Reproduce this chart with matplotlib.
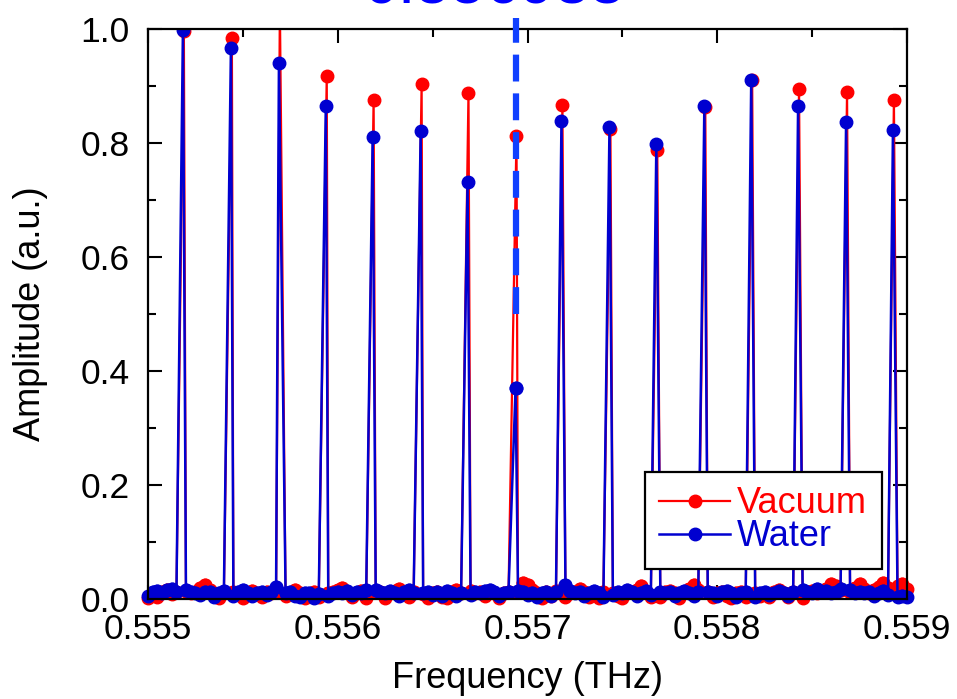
import numpy as np
import matplotlib
matplotlib.use("Agg")
import matplotlib.pyplot as plt

plt.rcParams['font.family'] = ['Liberation Sans', 'DejaVu Sans']

# comb line positions (THz) and peak amplitudes
peak_freq = [0.555184, 0.555437, 0.555690, 0.555937, 0.556184, 0.556437, 0.556684, 0.556937,
             0.557179, 0.557432, 0.557679, 0.557932, 0.558179, 0.558426, 0.558679, 0.558926]
vac_peak = [0.997, 0.984, 1.040, 0.918, 0.876, 0.903, 0.888, 0.812,
            0.867, 0.825, 0.788, 0.863, 0.911, 0.895, 0.889, 0.875]
water_peak = [0.998, 0.967, 0.940, 0.865, 0.811, 0.821, 0.732, 0.370,
              0.839, 0.828, 0.798, 0.865, 0.910, 0.865, 0.837, 0.823]

# baseline samples between the lines (0.555 .. 0.559, step 25 MHz)
base_start = 0.555
base_step = 0.000025
vac_base = [
    0.002, 0.010, 0.004, 0.012, 0.016, 0.009, 0.012, 0.003, 0.014, 0.011,
    0.013, 0.020, 0.024, 0.015, 0.008, 0.001, 0.010, 0.003, 0.012, 0.009,
    0.002, 0.011, 0.014, 0.009, 0.004, 0.013, 0.010, 0.012, 0.003, 0.006,
    0.010, 0.015, 0.011, 0.001, 0.009, 0.012, 0.004, 0.014, 0.010, 0.013,
    0.016, 0.019, 0.012, 0.003, 0.011, 0.014, 0.002, 0.009, 0.013, 0.012,
    0.002, 0.010, 0.014, 0.017, 0.011, 0.004, 0.012, 0.015, 0.009, 0.002,
    0.010, 0.013, 0.004, 0.002, 0.012, 0.016, 0.010, 0.003, 0.014, 0.011,
    0.012, 0.005, 0.014, 0.010, 0.002, 0.011, 0.013, 0.004, 0.012, 0.028,
    0.024, 0.016, 0.010, 0.002, 0.012, 0.005, 0.014, 0.011, 0.003, 0.010,
    0.013, 0.017, 0.012, 0.004, 0.010, 0.002, 0.012, 0.015, 0.011, 0.005,
    0.001, 0.010, 0.013, 0.016, 0.022, 0.012, 0.004, 0.011, 0.003, 0.012,
    0.014, 0.010, 0.002, 0.012, 0.018, 0.024, 0.015, 0.005, 0.012, 0.004,
    0.011, 0.013, 0.005, 0.001, 0.010, 0.012, 0.003, 0.014, 0.011, 0.005,
    0.010, 0.003, 0.012, 0.016, 0.011, 0.004, 0.013, 0.010, 0.002, 0.012,
    0.014, 0.010, 0.013, 0.018, 0.027, 0.022, 0.016, 0.008, 0.013, 0.020,
    0.026, 0.018, 0.010, 0.016, 0.021, 0.028, 0.019, 0.012, 0.022, 0.026,
    0.018,
]
water_base = [
    0.005, 0.012, 0.014, 0.010, 0.015, 0.018, 0.012, 0.008, 0.016, 0.012,
    0.011, 0.007, 0.013, 0.012, 0.004, 0.010, 0.014, 0.011, 0.006, 0.012,
    0.015, 0.010, 0.005, 0.011, 0.013, 0.007, 0.012, 0.021, 0.014, 0.010,
    0.012, 0.006, 0.003, 0.010, 0.011, 0.002, 0.009, 0.012, 0.005, 0.010,
    0.013, 0.011, 0.014, 0.007, 0.012, 0.010, 0.016, 0.024, 0.016, 0.012,
    0.010, 0.014, 0.011, 0.006, 0.012, 0.015, 0.010, 0.004, 0.011, 0.013,
    0.007, 0.012, 0.006, 0.014, 0.011, 0.005, 0.010, 0.013, 0.007, 0.012,
    0.010, 0.014, 0.016, 0.012, 0.006, 0.011, 0.013, 0.008, 0.014, 0.012,
    0.007, 0.011, 0.004, 0.010, 0.013, 0.006, 0.012, 0.008, 0.024, 0.014,
    0.010, 0.012, 0.006, 0.011, 0.014, 0.010, 0.004, 0.012, 0.007, 0.013,
    0.011, 0.016, 0.012, 0.006, 0.011, 0.014, 0.007, 0.003, 0.012, 0.010,
    0.013, 0.006, 0.010, 0.014, 0.011, 0.005, 0.012, 0.007, 0.013, 0.011,
    0.006, 0.012, 0.014, 0.010, 0.004, 0.011, 0.013, 0.007, 0.003, 0.010,
    0.012, 0.007, 0.011, 0.014, 0.010, 0.006, 0.012, 0.010, 0.016, 0.013,
    0.011, 0.017, 0.012, 0.014, 0.010, 0.013, 0.018, 0.012, 0.015, 0.011,
    0.013, 0.010, 0.012, 0.006, 0.011, 0.014, 0.007, 0.012, 0.004, 0.006,
    0.003,
]
vac_shift = 0.000005  # vacuum trace sits a hair to the right
marked_freq = 0.556942
marked_label = "0.556938"


def build(base, peaks, shift):
    # put each peak on the nearest baseline sample
    f = base_start + base_step * np.arange(len(base))
    a = np.array(base, dtype=float)
    for pf, pa in zip(peak_freq, peaks):
        i = int(np.argmin(np.abs(f - pf)))
        f[i] = pf + shift
        a[i] = pa
    return f, a


f_vac, a_vac = build(vac_base, vac_peak, vac_shift)
f_wat, a_wat = build(water_base, water_peak, 0.0)

fig = plt.figure(figsize=(9.57, 6.99), dpi=100)
ax = fig.add_axes([148 / 957, 1 - 599 / 699, 759 / 957, 570 / 699])

red = '#ff0000'
blue = '#0000d0'
for f, a, c, lw, name in [(f_vac, a_vac, red, 1.6, 'Vacuum'), (f_wat, a_wat, blue, 1.8, 'Water')]:
    ax.plot(f, a, color=c, lw=lw, marker='o', ms=9, mec=c, mfc=c, label=name)
    # baseline dots spill over the bottom spine, as in the original
    low = a < 0.5
    ax.plot(f[low], a[low], ls='none', marker='o', ms=9, mec=c, mfc=c, clip_on=False)

ax.plot([marked_freq, marked_freq], [0.5, 1.02], color='#1040ff', lw=4.5,
        linestyle=(0, (4.3, 1.9)), clip_on=False, zorder=5)

ax.set_xlim(0.555, 0.559)
ax.set_ylim(0.0, 1.0)
ax.set_xticks([0.555, 0.556, 0.557, 0.558, 0.559])
ax.set_xticks(np.arange(0.5555, 0.559, 0.001), minor=True)
ax.set_yticks([0.0, 0.2, 0.4, 0.6, 0.8, 1.0])
ax.set_yticks([0.1, 0.3, 0.5, 0.7, 0.9], minor=True)
ax.set_xticklabels(['0.555', '0.556', '0.557', '0.558', '0.559'])
ax.set_yticklabels(['0.0', '0.2', '0.4', '0.6', '0.8', '1.0'])

ax.tick_params(which='both', direction='in', top=True, right=True, width=1.5, labelsize=25.5)
ax.tick_params(which='major', length=10)
ax.tick_params(which='minor', length=6)
ax.tick_params(axis='y', pad=13)
ax.tick_params(axis='x', pad=10)
for s in ax.spines.values():
    s.set_linewidth(1.6)

ax.set_xlabel('Frequency (THz)', fontsize=26)
ax.set_ylabel('Amplitude (a.u.)', fontsize=26)
ax.xaxis.set_label_coords(0.5, -0.108)
ax.yaxis.set_label_coords(-0.132, 0.5)

leg = ax.legend(loc='upper left', bbox_to_anchor=(645 / 957, 1 - 472 / 699),
                bbox_transform=fig.transFigure, borderaxespad=0, fontsize=26,
                handlelength=1.95, handletextpad=0.2, borderpad=0.4,
                labelspacing=-0.06, fancybox=False, framealpha=1, numpoints=1)
leg.get_frame().set_edgecolor('black')
leg.get_frame().set_linewidth(1.6)
leg.set_zorder(10)
for txt, c in zip(leg.get_texts(), [red, blue]):
    txt.set_color(c)

# only the lower edge of this big label shows at the top of the image
fig.text(494 / 957, 1 - 3 / 699, marked_label, color='#0000ff', fontsize=45,
         ha='center', va='baseline')

fig.savefig('out.png', dpi=100)
